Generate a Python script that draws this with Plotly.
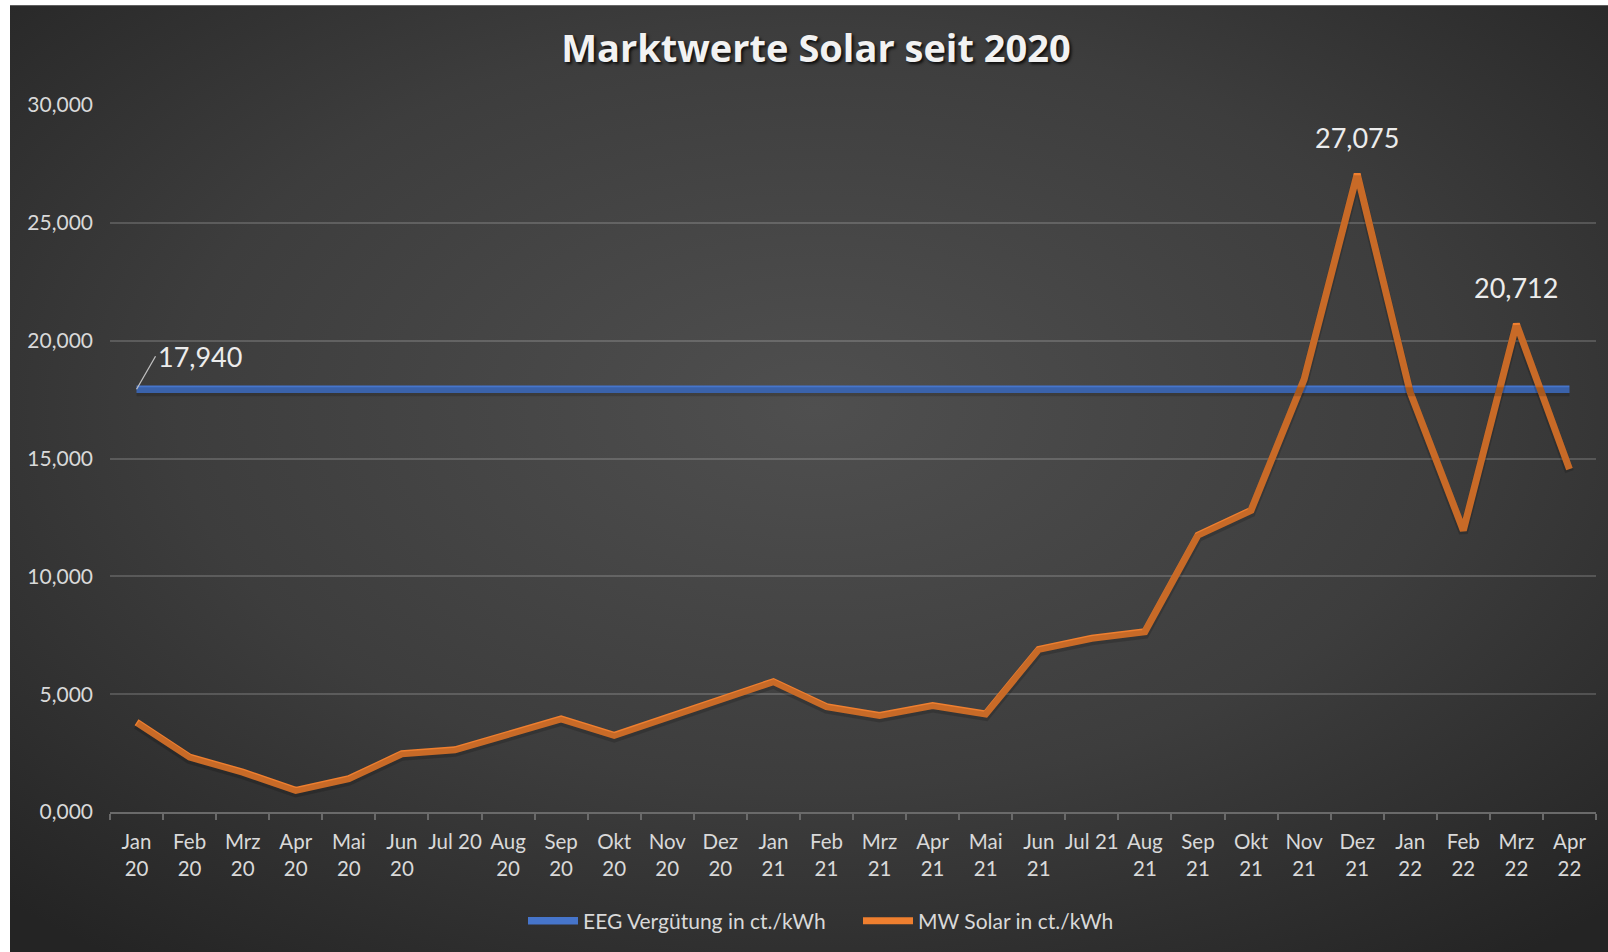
import base64
import plotly.graph_objects as go

# ---- data ----
months = ["Jan 20", "Feb 20", "Mrz 20", "Apr 20", "Mai 20", "Jun 20", "Jul 20", "Aug 20",
          "Sep 20", "Okt 20", "Nov 20", "Dez 20", "Jan 21", "Feb 21", "Mrz 21", "Apr 21",
          "Mai 21", "Jun 21", "Jul 21", "Aug 21", "Sep 21", "Okt 21", "Nov 21", "Dez 21",
          "Jan 22", "Feb 22", "Mrz 22", "Apr 22"]
tick_labels = ["Jan<br>20", "Feb<br>20", "Mrz<br>20", "Apr<br>20", "Mai<br>20", "Jun<br>20", "Jul 20",
               "Aug<br>20", "Sep<br>20", "Okt<br>20", "Nov<br>20", "Dez<br>20", "Jan<br>21",
               "Feb<br>21", "Mrz<br>21", "Apr<br>21", "Mai<br>21", "Jun<br>21", "Jul 21",
               "Aug<br>21", "Sep<br>21", "Okt<br>21", "Nov<br>21", "Dez<br>21", "Jan<br>22",
               "Feb<br>22", "Mrz<br>22", "Apr<br>22"]
eeg = [17.94] * 28
mw_solar = [3.81, 2.33, 1.69, 0.92, 1.41, 2.47, 2.64, 3.30, 3.95, 3.25, 4.01, 4.77, 5.53, 4.47,
            4.10, 4.52, 4.16, 6.90, 7.37, 7.65, 11.75, 12.80, 18.36, 27.075, 17.80, 11.95,
            20.712, 14.55]
series_names = ["EEG Vergütung in ct./kWh", "MW Solar in ct./kWh"]
y_ticks = [0, 5, 10, 15, 20, 25, 30]

BLUE = "#4675CB"
ORANGE = "#EF7F2F"
TXT = "#d9d9d9"
FONT = "Lato, 'Open Sans', sans-serif"

W, H = 1608, 952
ML, MR, MT, MB = 110, 12, 105, 139
PW, PH = W - ML - MR, H - MT - MB


def de(v):
    return f"{v:.3f}".replace(".", ",")


fig = go.Figure()

# soft drop shadows (same data on a slightly shifted overlay axis)
for vals in (eeg, mw_solar):
    fig.add_trace(go.Scatter(x=months, y=vals, mode="lines", xaxis="x", yaxis="y2",
                             line=dict(color="rgba(0,0,0,0.16)", width=9),
                             showlegend=False, hoverinfo="skip"))

fig.add_trace(go.Scatter(x=months, y=eeg, mode="lines", name=series_names[0],
                         line=dict(color=BLUE, width=7.5)))
fig.add_trace(go.Scatter(x=months, y=mw_solar, mode="lines", name=series_names[1],
                         line=dict(color=ORANGE, width=7)))

# background gradient
BW, BH = 1610, 960
svg = (f'<svg xmlns="http://www.w3.org/2000/svg" width="{BW}" height="{BH}" viewBox="0 0 {BW} {BH}" '
       f'preserveAspectRatio="none"><defs><radialGradient id="g" cx="50%" cy="42%" r="72%">'
       f'<stop offset="0" stop-color="#4f4f4f"/><stop offset="0.55" stop-color="#3d3d3d"/>'
       f'<stop offset="1" stop-color="#242424"/></radialGradient></defs>'
       f'<rect width="{BW}" height="{BH}" fill="url(#g)"/></svg>')
src = "data:image/svg+xml;base64," + base64.b64encode(svg.encode()).decode()

annotations = []
# label with leader line for EEG
annotations.append(dict(x=months[0], y=eeg[0], xref="x", yref="y", text=de(eeg[0]),
                        showarrow=True, arrowhead=0, arrowwidth=1.3, arrowcolor="#bfbfbf",
                        ax=19, ay=-33, xanchor="left", yanchor="middle",
                        font=dict(family=FONT, size=27, color="#ececec")))
for idx in (23, 26):
    annotations.append(dict(x=months[idx], y=mw_solar[idx], xref="x", yref="y",
                            text=de(mw_solar[idx]), showarrow=False, yshift=36,
                            xanchor="center", yanchor="middle",
                            font=dict(family=FONT, size=27, color="#ececec")))

# white page border at left and top (outside the dark chart area)
px = lambda v: (v - ML) / PW
py = lambda v: 1 - (v - MT) / PH
shapes = [
    dict(type="rect", xref="paper", yref="paper", x0=px(-5), x1=px(10), y0=py(960), y1=py(-5),
         fillcolor="white", line=dict(width=0), layer="above"),
    dict(type="rect", xref="paper", yref="paper", x0=px(-5), x1=px(1615), y0=py(5), y1=py(-5),
         fillcolor="white", line=dict(width=0), layer="above"),
]

shift = 2.5 * 30 / PH
fig.update_layout(
    width=W, height=H,
    margin=dict(l=ML, r=MR, t=MT, b=MB),
    paper_bgcolor="#2a2a2a",
    plot_bgcolor="rgba(0,0,0,0)",
    separators=",.",
    font=dict(family=FONT, color=TXT),
    title=dict(text="<b>Marktwerte Solar seit 2020</b>", x=816 / W, xref="container",
               xanchor="center", y=1 - 49 / H, yref="container", yanchor="middle",
               font=dict(family="'Open Sans', Lato, sans-serif", size=38, color="#f2f2f2",
                         shadow="2px 2px 3px rgba(0,0,0,0.8)")),
    xaxis=dict(type="category", categoryorder="array", categoryarray=months,
               tickvals=months, ticktext=tick_labels, range=[-0.5, 27.5], tickangle=0,
               showgrid=False, showline=True, linecolor="#6a6a6a", linewidth=1.5,
               ticks="outside", tickson="boundaries", ticklen=6, tickcolor="#6a6a6a",
               tickwidth=1.5, tickfont=dict(size=20.5, color=TXT), ticklabelstandoff=11,
               zeroline=False, fixedrange=True, automargin=False),
    yaxis=dict(range=[0, 30], tickvals=y_ticks, tickformat=".3f", showgrid=True,
               gridcolor="rgba(255,255,255,0.17)", gridwidth=1.5, zeroline=False,
               showline=False, ticks="", tickfont=dict(size=21, color=TXT),
               ticklabelstandoff=16, fixedrange=True, automargin=False),
    yaxis2=dict(range=[shift, 30 + shift], overlaying="y", visible=False, fixedrange=True),
    legend=dict(orientation="h", x=(523 - ML) / PW, xanchor="left",
                y=-(921 - (MT + PH)) / PH, yanchor="middle",
                font=dict(family=FONT, size=21, color=TXT), itemwidth=50,
                entrywidth=270, entrywidthmode="pixels", bgcolor="rgba(0,0,0,0)"),
    images=[dict(source=src, xref="paper", yref="paper", x=px(10), y=py(5),
                 sizex=BW / PW, sizey=BH / PH, sizing="stretch", xanchor="left",
                 yanchor="top", layer="below")],
    shapes=shapes,
    annotations=annotations,
    hovermode=False,
)

fig.write_html("out.html", config={"displayModeBar": False},
               post_script="document.body.style.margin='0';document.body.style.overflow='hidden';")
